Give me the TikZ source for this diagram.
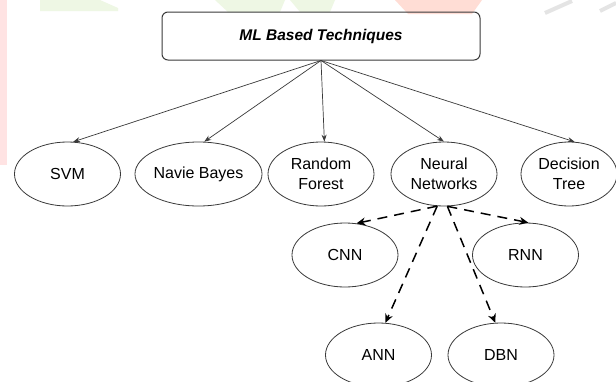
\documentclass[tikz,border=0pt]{standalone}
\usepackage{fontspec}
\setmainfont{Liberation Sans}
\usetikzlibrary{shapes.geometric,arrows.meta}
\definecolor{edgegrey}{HTML}{3A3A3A}
\definecolor{wmpink}{HTML}{FFE3E3}
\definecolor{wmgreen}{HTML}{EEF7E4}
\definecolor{wmred}{HTML}{FFDDD5}
\definecolor{wmgrey}{HTML}{E4E4E4}
\tikzset{
  rootbox/.style={draw=edgegrey, line width=1pt, rounded corners=6pt,
    minimum width=318pt, minimum height=48pt, inner sep=0pt,
    font=\fontsize{15.5}{18}\selectfont\bfseries\itshape},
  method/.style={ellipse, draw=edgegrey, line width=0.8pt, fill=white,
    minimum width=106pt, minimum height=64pt, inner sep=0pt, align=center,
    font=\fontsize{16}{20}\selectfont},
  solidlink/.style={draw=edgegrey, line width=0.7pt,
    -{Stealth[length=7pt,width=5pt]}},
  dashlink/.style={draw=black, line width=1.5pt, dash pattern=on 10pt off 7pt,
    -{Stealth[length=9pt,width=8pt,inset=3pt]}}
}
\begin{document}
\begin{tikzpicture}[x=1pt,y=-1pt]
  \useasboundingbox (0,0) rectangle (616,381);
  \fill[white] (0,0) rectangle (616,381);

  % faint background marks
  \fill[wmpink] (0,0) rectangle (7,165);
  \fill[wmgreen] (40,0) -- (100,0) -- (118,8) -- (118,11) -- (40,11) -- cycle;
  \fill[wmgreen] (215,0) -- (285,0) -- (280,12) -- (228,12) -- cycle;
  \fill[wmgreen] (290,0) -- (335,0) -- (330,12) -- (300,12) -- cycle;
  \fill[wmred] (395,0) -- (482,0) -- (472,14) -- (408,14) -- cycle;
  \draw[wmgrey, line width=4pt] (545,13) -- (572,1);
  \draw[wmgrey, line width=4pt] (600,11) -- (616,3);

  % root
  \node[rootbox] (root) at (321,36) {ML Based Techniques};

  % first level
  \node[method] (svm) at (67.5,174) {SVM};
  \node[method] (nb)  at (198.5,174) {Navie Bayes};
  \node[method] (rf)  at (321,174) {Random\\Forest};
  \node[method] (nn)  at (444,174) {Neural\\Networks};
  \node[method, minimum width=96pt] (dt) at (569,174) {Decision\\Tree};

  % second level
  \node[method] (cnn) at (345,255) {CNN};
  \node[method] (rnn) at (525.5,255) {RNN};
  \node[method] (ann) at (378.5,355) {ANN};
  \node[method] (dbn) at (501,355) {DBN};

  % links from the root
  \coordinate (hub) at (root.south);
  \draw[solidlink] (hub) -- (svm.80);
  \draw[solidlink] (hub) -- (nb.80);
  \draw[solidlink] (hub) -- (rf.84);
  \draw[solidlink] (hub) -- (nn.north);
  \draw[solidlink] (hub) -- (dt.80);

  % neural network variants
  \draw[dashlink] (nn.258) -- (cnn.70);
  \draw[dashlink] (nn.276) -- (rnn.85);
  \draw[dashlink] (nn.258) -- (ann.78);
  \draw[dashlink] (nn.276) -- (dbn.100);
\end{tikzpicture}
\end{document}
